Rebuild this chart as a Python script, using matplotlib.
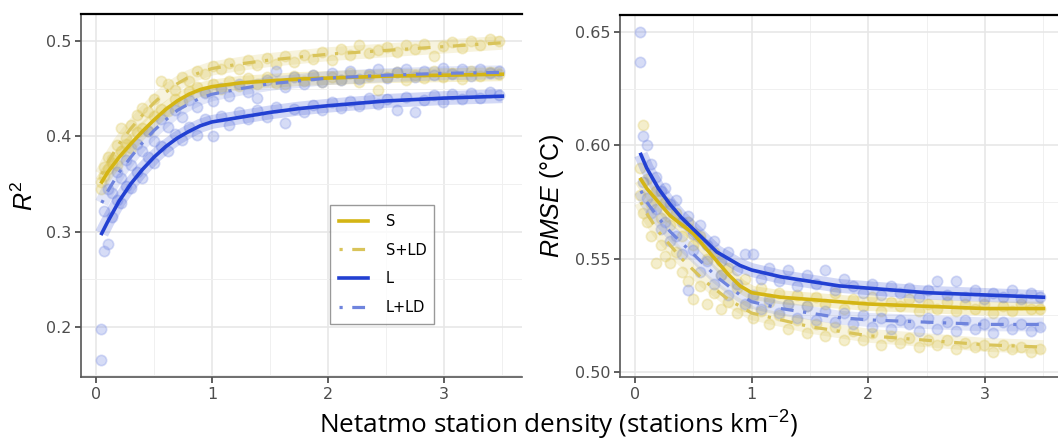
import matplotlib
matplotlib.use("Agg")
import matplotlib.pyplot as plt
from matplotlib.ticker import MultipleLocator, FormatStrFormatter

# station density for the scatter points
density = [0.04, 0.07, 0.10, 0.14, 0.18, 0.22, 0.26, 0.30, 0.35, 0.40,
           0.45, 0.50, 0.56, 0.62, 0.68, 0.74, 0.80, 0.87, 0.94, 1.01,
           1.08, 1.15, 1.23, 1.31, 1.39, 1.47, 1.55, 1.63, 1.71, 1.79,
           1.87, 1.95, 2.03, 2.11, 2.19, 2.27, 2.35, 2.43, 2.51, 2.59,
           2.67, 2.75, 2.83, 2.91, 2.99, 3.07, 3.15, 3.23, 3.31, 3.39,
           3.47]

# R2 points
r2_s = [0.345, 0.358, 0.366, 0.372, 0.370, 0.385, 0.392, 0.388, 0.404, 0.409,
        0.405, 0.421, 0.429, 0.426, 0.439, 0.436, 0.447, 0.452, 0.446, 0.455,
        0.450, 0.458, 0.453, 0.461, 0.455, 0.462, 0.456, 0.455, 0.463, 0.458,
        0.464, 0.457, 0.462, 0.459, 0.466, 0.457, 0.463, 0.448, 0.462, 0.467,
        0.459, 0.464, 0.461, 0.468, 0.462, 0.466, 0.460, 0.468, 0.463, 0.467,
        0.465]
r2_sld = [0.352, 0.368, 0.378, 0.376, 0.391, 0.409, 0.398, 0.412, 0.422, 0.430,
          0.425, 0.439, 0.458, 0.455, 0.449, 0.462, 0.458, 0.468, 0.465, 0.474,
          0.470, 0.477, 0.471, 0.480, 0.475, 0.482, 0.476, 0.484, 0.478, 0.485,
          0.481, 0.488, 0.480, 0.492, 0.485, 0.496, 0.487, 0.490, 0.494, 0.488,
          0.496, 0.491, 0.497, 0.484, 0.495, 0.499, 0.493, 0.500, 0.496, 0.502,
          0.500]
r2_l = [0.165, 0.280, 0.287, 0.315, 0.333, 0.330, 0.348, 0.346, 0.362, 0.356,
        0.378, 0.372, 0.390, 0.384, 0.402, 0.396, 0.410, 0.401, 0.418, 0.400,
        0.421, 0.412, 0.425, 0.418, 0.427, 0.420, 0.431, 0.414, 0.429, 0.425,
        0.433, 0.428, 0.436, 0.430, 0.437, 0.432, 0.440, 0.434, 0.439, 0.427,
        0.441, 0.425, 0.438, 0.443, 0.436, 0.444, 0.439, 0.445, 0.440, 0.446,
        0.443]
r2_lld = [0.198, 0.322, 0.345, 0.340, 0.362, 0.356, 0.375, 0.370, 0.392, 0.384,
          0.406, 0.395, 0.418, 0.410, 0.428, 0.420, 0.438, 0.431, 0.445, 0.437,
          0.451, 0.442, 0.455, 0.446, 0.440, 0.459, 0.468, 0.452, 0.462, 0.455,
          0.464, 0.457, 0.466, 0.459, 0.468, 0.460, 0.465, 0.470, 0.461, 0.467,
          0.471, 0.462, 0.468, 0.464, 0.472, 0.465, 0.470, 0.463, 0.471, 0.466,
          0.468]

# RMSE points
rmse_s = [0.590, 0.609, 0.585, 0.574, 0.580, 0.568, 0.575, 0.565, 0.570, 0.560,
          0.566, 0.556, 0.560, 0.550, 0.553, 0.543, 0.546, 0.537, 0.541, 0.533,
          0.537, 0.531, 0.535, 0.530, 0.534, 0.529, 0.533, 0.530, 0.535, 0.528,
          0.532, 0.529, 0.533, 0.527, 0.531, 0.529, 0.532, 0.527, 0.530, 0.528,
          0.531, 0.527, 0.530, 0.528, 0.530, 0.526, 0.529, 0.527, 0.530, 0.528,
          0.528]
rmse_sld = [0.578, 0.570, 0.566, 0.560, 0.548, 0.556, 0.551, 0.548, 0.553, 0.544,
            0.540, 0.532, 0.538, 0.530, 0.535, 0.528, 0.531, 0.526, 0.529, 0.524,
            0.527, 0.521, 0.525, 0.519, 0.523, 0.517, 0.521, 0.516, 0.520, 0.514,
            0.518, 0.514, 0.517, 0.512, 0.516, 0.513, 0.515, 0.511, 0.514, 0.512,
            0.514, 0.510, 0.513, 0.511, 0.512, 0.509, 0.512, 0.510, 0.511, 0.509,
            0.510]
rmse_l = [0.650, 0.604, 0.600, 0.592, 0.586, 0.580, 0.581, 0.574, 0.576, 0.566,
          0.569, 0.561, 0.565, 0.556, 0.558, 0.549, 0.553, 0.545, 0.552, 0.552,
          0.541, 0.546, 0.540, 0.545, 0.538, 0.543, 0.539, 0.545, 0.536, 0.541,
          0.538, 0.535, 0.539, 0.534, 0.538, 0.535, 0.537, 0.533, 0.536, 0.540,
          0.534, 0.540, 0.533, 0.536, 0.532, 0.535, 0.533, 0.536, 0.532, 0.535,
          0.533]
rmse_lld = [0.637, 0.584, 0.577, 0.570, 0.572, 0.563, 0.566, 0.558, 0.560, 0.552,
            0.536, 0.554, 0.544, 0.549, 0.539, 0.543, 0.534, 0.539, 0.530, 0.534,
            0.528, 0.532, 0.526, 0.530, 0.524, 0.529, 0.523, 0.527, 0.522, 0.526,
            0.521, 0.525, 0.520, 0.524, 0.519, 0.523, 0.521, 0.518, 0.524, 0.519,
            0.522, 0.518, 0.523, 0.519, 0.521, 0.517, 0.522, 0.519, 0.521, 0.518,
            0.520]

# smoothed fits
fit_x = [0.05, 0.1, 0.2, 0.3, 0.4, 0.5, 0.6, 0.7, 0.8, 0.9, 1.0,
         1.25, 1.5, 1.75, 2.0, 2.5, 3.0, 3.5]
fit_r2_s = [0.352, 0.362, 0.378, 0.392, 0.405, 0.417, 0.428, 0.437, 0.444, 0.449, 0.452,
            0.456, 0.458, 0.460, 0.461, 0.463, 0.464, 0.465]
fit_r2_sld = [0.360, 0.372, 0.392, 0.408, 0.422, 0.435, 0.446, 0.455, 0.462, 0.467, 0.471,
              0.476, 0.480, 0.483, 0.486, 0.490, 0.494, 0.498]
fit_r2_l = [0.298, 0.310, 0.332, 0.350, 0.365, 0.378, 0.389, 0.398, 0.405, 0.411, 0.415,
            0.420, 0.425, 0.429, 0.432, 0.437, 0.440, 0.442]
fit_r2_lld = [0.330, 0.342, 0.362, 0.378, 0.393, 0.406, 0.417, 0.427, 0.434, 0.440, 0.444,
              0.450, 0.455, 0.458, 0.461, 0.464, 0.466, 0.467]
fit_rmse_s = [0.585, 0.581, 0.575, 0.569, 0.565, 0.561, 0.555, 0.549, 0.543, 0.538, 0.535,
              0.533, 0.532, 0.531, 0.530, 0.529, 0.528, 0.528]
fit_rmse_sld = [0.575, 0.570, 0.562, 0.556, 0.550, 0.545, 0.540, 0.536, 0.532, 0.529, 0.526,
                0.523, 0.520, 0.518, 0.516, 0.514, 0.512, 0.511]
fit_rmse_l = [0.596, 0.590, 0.581, 0.574, 0.568, 0.563, 0.558, 0.553, 0.550, 0.547, 0.545,
              0.542, 0.540, 0.538, 0.537, 0.535, 0.534, 0.533]
fit_rmse_lld = [0.580, 0.575, 0.568, 0.562, 0.557, 0.552, 0.547, 0.542, 0.538, 0.534, 0.531,
                0.528, 0.526, 0.524, 0.523, 0.522, 0.521, 0.521]

labels = ["S", "S+LD", "L", "L+LD"]

YEL = "#D4B514"
YEL_D = "#D9C45A"
BLUE = "#2240D2"
BLUE_D = "#6F84DD"
PT_YEL = "#E0CC66"
PT_BLUE = "#8395E6"
DOTDASH = (0, (1, 3, 4, 3))

plt.rcParams["font.family"] = ["DejaVu Sans"]
plt.rcParams["mathtext.fontset"] = "custom"
plt.rcParams["mathtext.it"] = "Liberation Sans:italic"
plt.rcParams["mathtext.rm"] = "Liberation Sans"

fig = plt.figure(figsize=(10.58, 4.43), dpi=100)
ax1 = fig.add_axes([0.0766, 0.149, 0.4168, 0.819])
ax2 = fig.add_axes([0.586, 0.149, 0.414, 0.817])


def panel(ax, pts, fits):
    (ps, psld, pl, plld) = pts
    (fs, fsld, fl, flld) = fits
    for vals, c in ((psld, PT_YEL), (ps, PT_YEL), (plld, PT_BLUE), (pl, PT_BLUE)):
        ax.scatter(density, vals, s=55, facecolor=c, edgecolor=c, alpha=0.33,
                   linewidths=1.2, zorder=2)
    # confidence ribbons drawn as wide translucent strokes
    for f, c in ((fsld, YEL_D), (fs, YEL), (flld, BLUE_D), (fl, BLUE)):
        ax.plot(fit_x, f, color=c, lw=10, alpha=0.2, solid_capstyle="butt", zorder=3)
    h1, = ax.plot(fit_x, fs, color=YEL, lw=2.6, zorder=4)
    h2, = ax.plot(fit_x, fsld, color=YEL_D, lw=2.3, ls=DOTDASH, zorder=4)
    h3, = ax.plot(fit_x, fl, color=BLUE, lw=2.6, zorder=5)
    h4, = ax.plot(fit_x, flld, color=BLUE_D, lw=2.3, ls=DOTDASH, zorder=5)

    ax.xaxis.set_major_locator(MultipleLocator(1))
    ax.xaxis.set_minor_locator(MultipleLocator(0.5))
    ax.grid(which="major", color="#E6E6E6", lw=1.1, zorder=0)
    ax.grid(which="minor", color="#F0F0F0", lw=0.7, zorder=0)
    ax.set_axisbelow(True)
    ax.spines["right"].set_visible(False)
    ax.spines["top"].set_color("black")
    ax.spines["top"].set_linewidth(1.6)
    for side in ("left", "bottom"):
        ax.spines[side].set_color("#555555")
        ax.spines[side].set_linewidth(1.2)
    ax.tick_params(which="major", direction="out", length=4, width=1.1, color="#333333",
                   labelcolor="#4D4D4D", labelsize=11.5, pad=3)
    ax.tick_params(which="minor", length=0)
    return [h1, h2, h3, h4]


handles = panel(ax1, (r2_s, r2_sld, r2_l, r2_lld),
                (fit_r2_s, fit_r2_sld, fit_r2_l, fit_r2_lld))
ax1.set_xlim(-0.128, 3.67)
ax1.set_ylim(0.1475, 0.528)
ax1.yaxis.set_major_locator(MultipleLocator(0.1))
ax1.yaxis.set_minor_locator(MultipleLocator(0.05))
ax1.set_ylabel(r"$R^2$", fontsize=18, labelpad=6)

panel(ax2, (rmse_s, rmse_sld, rmse_l, rmse_lld),
      (fit_rmse_s, fit_rmse_sld, fit_rmse_l, fit_rmse_lld))
ax2.set_xlim(-0.129, 3.625)
ax2.set_ylim(0.4978, 0.6575)
ax2.yaxis.set_major_locator(MultipleLocator(0.05))
ax2.yaxis.set_minor_locator(MultipleLocator(0.025))
ax2.yaxis.set_major_formatter(FormatStrFormatter("%.2f"))
ax2.set_ylabel(r"$RMSE$ (°C)", fontsize=18, labelpad=6, family="Liberation Sans")

leg = ax1.legend(handles, labels, loc="lower left", bbox_to_anchor=(0.565, 0.146, 0.235, 0.333),
                 mode="expand", borderaxespad=0.0, fontsize=10.5, frameon=True,
                 fancybox=False, edgecolor="#808080", handlelength=2.0,
                 labelspacing=0.95, borderpad=0.6, handletextpad=1.2)
leg.get_frame().set_linewidth(1.0)

fig.text(0.528, 0.04, "Netatmo station density (stations km$^{-2}$)",
         ha="center", va="center", fontsize=18.8, family="Open Sans", color="black")

fig.savefig("out.png", dpi=100)
